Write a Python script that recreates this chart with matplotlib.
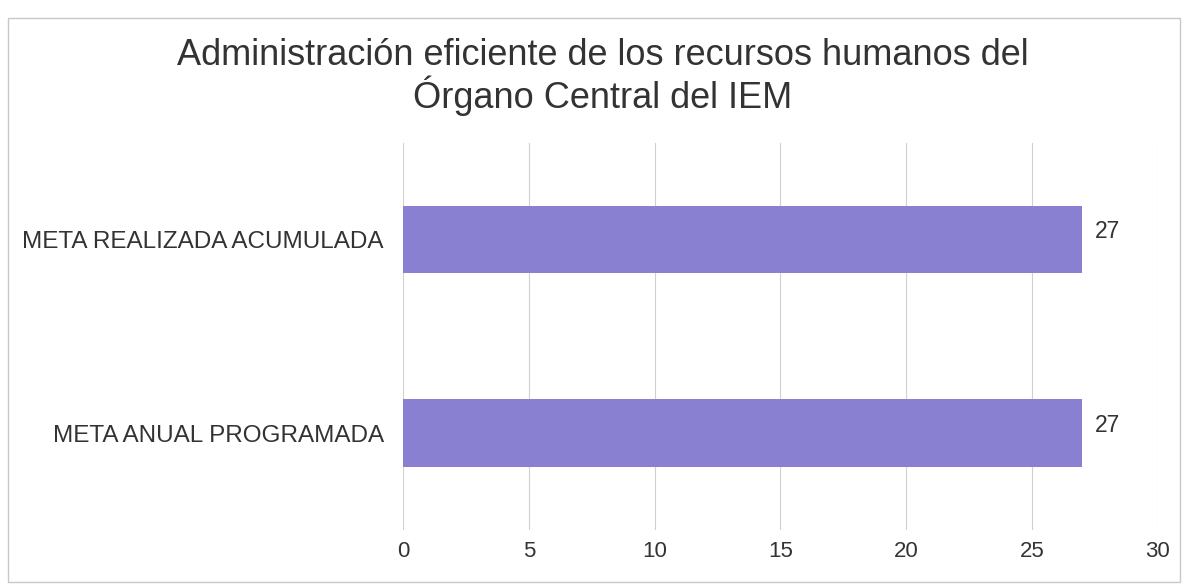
import matplotlib
matplotlib.use('Agg')
import matplotlib.pyplot as plt
from matplotlib.patches import Rectangle

plt.rcParams['font.family'] = ['Liberation Sans', 'DejaVu Sans']

# data
categorias = ['META ANUAL PROGRAMADA', 'META REALIZADA ACUMULADA']
valores = [27, 27]
ticks_x = [0, 5, 10, 15, 20, 25, 30]
titulo = 'Administración eficiente de los recursos humanos del\nÓrgano Central del IEM'

fig = plt.figure(figsize=(11.86, 5.85), dpi=100)
ax = fig.add_axes([0.340, 0.094, 0.636, 0.662])

ax.barh(range(len(categorias)), valores, height=0.35, color='#8a80d2', zorder=3)
for i, v in enumerate(valores):
    ax.text(v + 0.5, i + 0.04, str(v), va='center', ha='left', fontsize=16.5, color='#333333')

ax.set_xlim(0, 30)
ax.set_ylim(-0.5, 1.5)
ax.set_xticks(ticks_x)
ax.set_yticks(range(len(categorias)))
ax.set_yticklabels(categorias, fontsize=17.5)
ax.tick_params(axis='both', length=0, colors='#333333')
ax.tick_params(axis='x', pad=8, labelsize=16)
ax.tick_params(axis='y', pad=14)
ax.grid(axis='x', color='#d0d0d0', linewidth=0.8, zorder=0)
for s in ax.spines.values():
    s.set_visible(False)

fig.text(0.508, 0.935, titulo, ha='center', va='top', fontsize=26, color='#333333', linespacing=1.07)

# outer frame
fig.patches.append(Rectangle((0.007, 0.005), 0.988, 0.965, transform=fig.transFigure,
                             fill=False, edgecolor='#c8c8c8', linewidth=1))

fig.savefig('out.png', dpi=100)
